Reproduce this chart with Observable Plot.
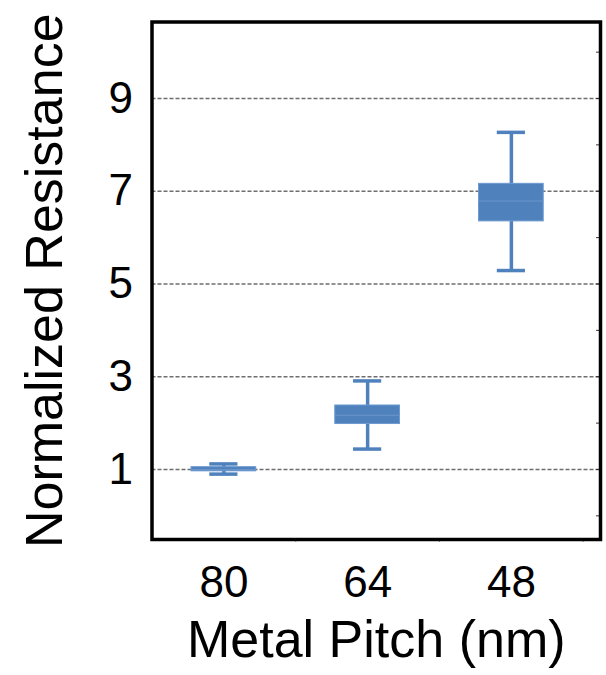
<!DOCTYPE html>
<html><head><meta charset="utf-8">
<script src="https://cdn.jsdelivr.net/npm/d3@7"></script>
<script src="https://cdn.jsdelivr.net/npm/@observablehq/plot@0.6"></script>
<style>body{margin:0;background:#fff} svg{display:block}</style>
</head><body><div id="chart"></div>
<script>
const categories = ["80", "64", "48"];
const whiskerLow = [0.90, 1.44, 5.29];
const q1 = [0.96, 1.98, 6.35];
const median = [1.00, 2.17, 6.79];
const q3 = [1.05, 2.38, 7.16];
const whiskerHigh = [1.12, 2.91, 8.27];
const yLabelTicks = [1, 3, 5, 7, 9];
const rightTicks = [0, 1, 2, 3, 4, 5, 6, 7, 8, 9, 10];
const separatorTicks = [1.5, 2.5, 3.5];
const xTitle = "Metal Pitch (nm)";
const yTitle = "Normalized Resistance";

const data = categories.map((c, i) => ({
  pos: i + 1, cat: c, lo: whiskerLow[i], q1: q1[i], med: median[i], q3: q3[i], hi: whiskerHigh[i]
}));
const boxHalf = 0.225, capHalf = 0.098;
const blue = "#4f81bd";
const font = '"Liberation Sans", Arial, sans-serif';

const chart = Plot.plot({
  width: 606, height: 675,
  marginLeft: 151.5, marginRight: 6, marginTop: 21.5, marginBottom: 136,
  style: {fontFamily: font, color: "#000", background: "#fff", overflow: "visible"},
  x: {type: "linear", domain: [0.5, 3.62]},
  y: {domain: [-0.51, 10.65]},
  marks: [
    Plot.ruleY(yLabelTicks, {y: d => d, stroke: "#6e6e6e", strokeWidth: 1.4, strokeDasharray: "4,2"}),
    Plot.ruleX(data, {x: "pos", y1: "lo", y2: "hi", stroke: blue, strokeWidth: 3.5}),
    Plot.rect(data, {x1: d => d.pos - boxHalf, x2: d => d.pos + boxHalf, y1: "q1", y2: "q3", fill: blue, stroke: "#6d9ad0", strokeWidth: 1}),
    Plot.ruleY(data, {y: "med", x1: d => d.pos - boxHalf, x2: d => d.pos + boxHalf, stroke: "#6a96cb", strokeWidth: 1}),
    Plot.ruleY(data, {y: "lo", x1: d => d.pos - capHalf, x2: d => d.pos + capHalf, stroke: blue, strokeWidth: 3.5}),
    Plot.ruleY(data, {y: "hi", x1: d => d.pos - capHalf, x2: d => d.pos + capHalf, stroke: blue, strokeWidth: 3.5}),
    Plot.axisY({anchor: "left", ticks: yLabelTicks, tickSize: 0, tickPadding: 19, fontSize: 44, label: null}),
    Plot.axisY({anchor: "right", ticks: rightTicks, tickSize: -5, tickFormat: () => "", label: null, stroke: "#333"}),
    Plot.axisX({anchor: "bottom", ticks: [1, 2, 3], tickFormat: d => categories[Math.round(d) - 1], tickSize: 0, tickPadding: 26, fontSize: 44, label: null}),
    Plot.axisX({anchor: "bottom", ticks: separatorTicks, tickFormat: () => "", tickSize: 3, label: null, stroke: "#999"}),
    Plot.frame({stroke: "#000", strokeWidth: 3.5}),
    Plot.text([xTitle], {text: d => d, frameAnchor: "bottom", textAnchor: "middle", lineAnchor: "top", dy: 81, fontSize: 52, fill: "#000"}),
    Plot.text([yTitle], {text: d => d, frameAnchor: "left", textAnchor: "middle", rotate: -90, lineAnchor: "top", dx: -127, fontSize: 52, fill: "#000"})
  ]
});
document.getElementById("chart").appendChild(chart);
</script>
</body></html>
